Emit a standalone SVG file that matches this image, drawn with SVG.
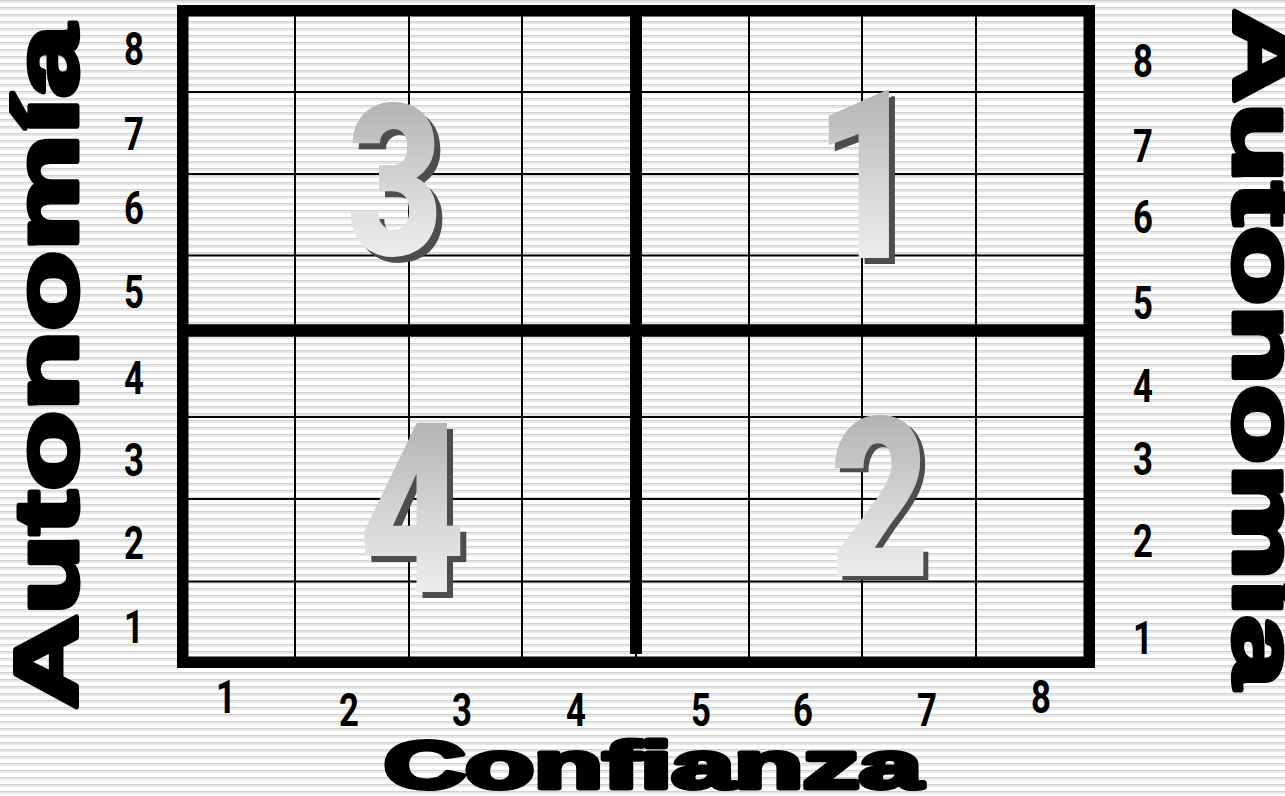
<svg xmlns="http://www.w3.org/2000/svg" width="1285" height="796" viewBox="0 0 1285 796">
  <defs>
    <pattern id="stripes" x="0" y="0" width="16" height="7" patternUnits="userSpaceOnUse">
      <rect x="0" y="0" width="16" height="7" fill="#ffffff"/>
      <rect x="0" y="0" width="16" height="1.5" fill="#d2d2d2"/>
      <rect x="0" y="1.5" width="16" height="1.5" fill="#e7e7e7"/>
    </pattern>
    <linearGradient id="digitGrad" x1="0" y1="0" x2="0" y2="1">
      <stop offset="0" stop-color="#a2a2a2"/>
      <stop offset="0.5" stop-color="#d4d4d4"/>
      <stop offset="1" stop-color="#ffffff"/>
    </linearGradient>
    <style>
      .thin { stroke: #000; stroke-width: 2; fill: none; }
      .thick { stroke: #000; fill: none; }
      .tick { font-family: Roboto, "Liberation Sans", Arial, sans-serif; font-weight: bold; font-size: 47px; fill: #000; text-anchor: middle; }
      .title { font-family: "Liberation Sans", Arial, sans-serif; font-weight: bold; fill: #000; stroke: #000; stroke-width: 5; stroke-linejoin: round; }
      .big { font-family: Roboto, "Liberation Sans", Arial, sans-serif; font-weight: 900; text-anchor: middle; }
      .shadow { fill: #4d4d4d; }
      .face { fill: url(#digitGrad); }
    </style>
  </defs>

  <rect id="background" x="0" y="0" width="1285" height="796" fill="url(#stripes)"/>

  <g id="grid">
    <g id="thin-lines">
      <line class="thin" x1="295" y1="11" x2="295" y2="662"/>
      <line class="thin" x1="409" y1="11" x2="409" y2="662"/>
      <line class="thin" x1="522" y1="11" x2="522" y2="662"/>
      <line class="thin" x1="749" y1="11" x2="749" y2="662"/>
      <line class="thin" x1="862" y1="11" x2="862" y2="662"/>
      <line class="thin" x1="976" y1="11" x2="976" y2="662"/>
      <line class="thin" x1="183" y1="92" x2="1089" y2="92"/>
      <line class="thin" x1="183" y1="174" x2="1089" y2="174"/>
      <line class="thin" x1="183" y1="255.5" x2="1089" y2="255.5"/>
      <line class="thin" x1="183" y1="417" x2="1089" y2="417"/>
      <line class="thin" x1="183" y1="499" x2="1089" y2="499"/>
      <line class="thin" x1="183" y1="581.5" x2="1089" y2="581.5"/>
    </g>
    <g id="thick-lines">
      <line class="thick" stroke-width="12" x1="636" y1="11" x2="636" y2="654"/>
      <line class="thin" x1="636" y1="652" x2="636" y2="660"/>
      <line class="thick" stroke-width="12.5" x1="183" y1="330.5" x2="1089" y2="330.5"/>
      <rect class="thick" stroke-width="11.5" x="182.75" y="10.75" width="906.5" height="651.5"/>
    </g>
  </g>

  <g id="quadrant-3">
    <text class="big shadow" font-size="212" transform="translate(401,261) scale(0.78,1)">3</text>
    <text class="big face" font-size="212" transform="translate(395,255) scale(0.78,1)">3</text>
  </g>
  <g id="quadrant-1">
    <text class="big shadow" font-size="236" transform="translate(873,264) scale(0.78,1)">1</text>
    <text class="big face" font-size="236" transform="translate(867,258) scale(0.78,1)">1</text>
  </g>
  <g id="quadrant-4">
    <text class="big shadow" font-size="237" transform="translate(418,598) scale(0.78,1)">4</text>
    <text class="big face" font-size="237" transform="translate(412,592) scale(0.78,1)">4</text>
  </g>
  <g id="quadrant-2">
    <text class="big shadow" font-size="222" transform="translate(885,580) scale(0.78,1)">2</text>
    <text class="big face" font-size="222" transform="translate(880,576) scale(0.78,1)">2</text>
  </g>

  <g id="left-axis-numbers">
    <text class="tick" transform="translate(134,65) scale(0.74,1)">8</text>
    <text class="tick" transform="translate(134,150) scale(0.74,1)">7</text>
    <text class="tick" transform="translate(134,224) scale(0.74,1)">6</text>
    <text class="tick" transform="translate(134,308) scale(0.74,1)">5</text>
    <text class="tick" transform="translate(134,394) scale(0.74,1)">4</text>
    <text class="tick" transform="translate(134,476) scale(0.74,1)">3</text>
    <text class="tick" transform="translate(134,559) scale(0.74,1)">2</text>
    <text class="tick" transform="translate(134,643) scale(0.74,1)">1</text>
  </g>
  <g id="right-axis-numbers">
    <text class="tick" transform="translate(1143,77) scale(0.74,1)">8</text>
    <text class="tick" transform="translate(1143,162) scale(0.74,1)">7</text>
    <text class="tick" transform="translate(1143,233) scale(0.74,1)">6</text>
    <text class="tick" transform="translate(1143,319) scale(0.74,1)">5</text>
    <text class="tick" transform="translate(1143,402) scale(0.74,1)">4</text>
    <text class="tick" transform="translate(1143,475) scale(0.74,1)">3</text>
    <text class="tick" transform="translate(1143,557) scale(0.74,1)">2</text>
    <text class="tick" transform="translate(1143,654) scale(0.74,1)">1</text>
  </g>
  <g id="bottom-axis-numbers">
    <text class="tick" transform="translate(226,713) scale(0.74,1)">1</text>
    <text class="tick" transform="translate(349,726) scale(0.74,1)">2</text>
    <text class="tick" transform="translate(462,726) scale(0.74,1)">3</text>
    <text class="tick" transform="translate(576,726) scale(0.74,1)">4</text>
    <text class="tick" transform="translate(701,726) scale(0.74,1)">5</text>
    <text class="tick" transform="translate(803,726) scale(0.74,1)">6</text>
    <text class="tick" transform="translate(927,726) scale(0.74,1)">7</text>
    <text class="tick" transform="translate(1041,713) scale(0.74,1)">8</text>
  </g>

  <g id="axis-titles">
    <text id="title-left" class="title" font-size="89" transform="translate(77,709) rotate(-90)" textLength="684" lengthAdjust="spacingAndGlyphs">Autonomía</text>
    <text id="title-right" class="title" font-size="89" transform="translate(1234,9) rotate(90)" textLength="679" lengthAdjust="spacingAndGlyphs">Autonomía</text>
    <text id="title-bottom" class="title" font-size="66" x="384" y="788" textLength="538" lengthAdjust="spacingAndGlyphs">Confianza</text>
  </g>
</svg>
